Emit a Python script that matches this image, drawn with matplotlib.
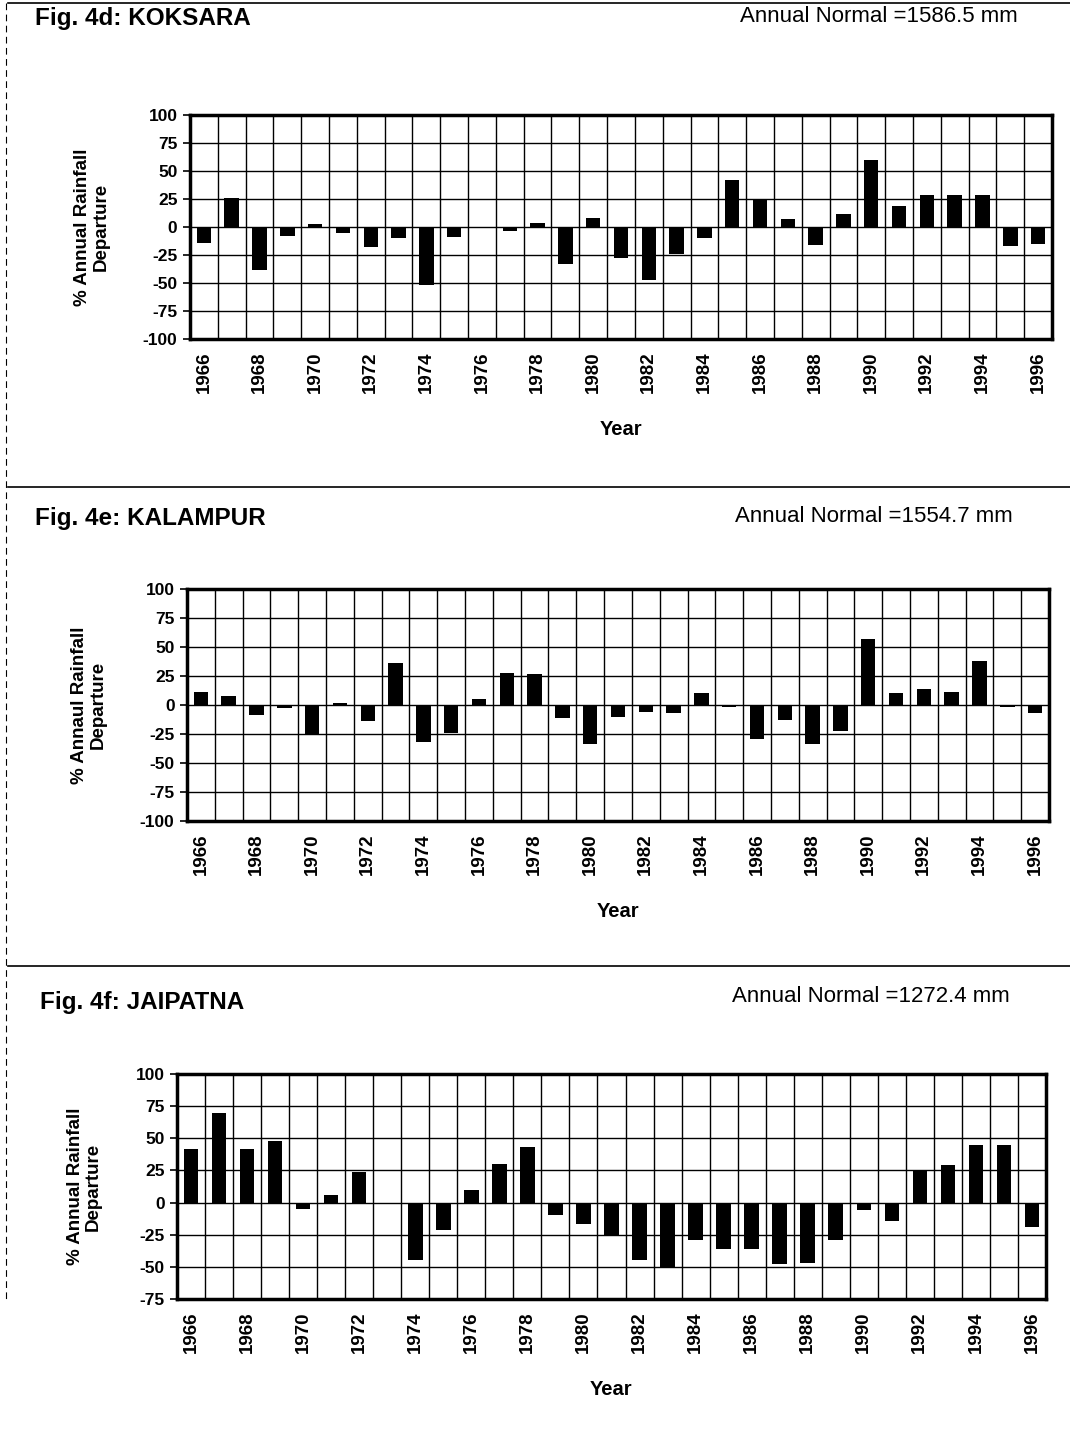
import numpy as np
import matplotlib
matplotlib.use('Agg')
import matplotlib.pyplot as plt
from matplotlib.lines import Line2D

plt.rcParams['font.family'] = ['Liberation Sans', 'DejaVu Sans']
plt.rcParams['axes.unicode_minus'] = False

years = list(range(1966, 1997))

# % annual rainfall departure
koksara = [-14, 26, -38, -8, 3, -5, -18, -10, -52, -9, -1, -4, 4, -33, 8,
           -28, -47, -24, -10, 42, 24, 7, -16, 12, 60, 19, 29, 29, 29, -17, -15]
kalampur = [11, 8, -9, -3, -26, 2, -14, 36, -32, -24, 5, 28, 27, -11, -34,
            -10, -6, -7, 10, -2, -29, -13, -34, -22, 57, 10, 14, 11, 38, -2, -7]
jaipatna = [42, 70, 42, 48, -5, 6, 24, 0, -45, -21, 10, 30, 43, -10, -17,
            -26, -45, -51, -29, -36, -36, -48, -47, -29, -6, -14, 25, 29, 45, 45, -19]

titles = ['Fig. 4d: KOKSARA', 'Fig. 4e: KALAMPUR', 'Fig. 4f: JAIPATNA']
normals = ['Annual Normal =1586.5 mm', 'Annual Normal =1554.7 mm',
           'Annual Normal =1272.4 mm']
ylabels = ['% Annual Rainfall\nDeparture', '% Annaul Rainfall\nDeparture',
           '% Annual Rainfall\nDeparture']
series = [koksara, kalampur, jaipatna]
ylims = [(-100, 100), (-100, 100), (-75, 100)]

W, H = 1070, 1441
fig = plt.figure(figsize=(W / 100, H / 100), dpi=100)

# axes boxes in pixels: left, right, top, bottom
boxes = [(190, 1052, 115, 339), (187, 1049, 589, 821), (177, 1046, 1074, 1299)]
title_pos = [(35, 18, 1018, 17), (35, 518, 1013, 516), (40, 1002, 1010, 997)]

x = np.arange(len(years))
for k in range(3):
    l, r, t, b = boxes[k]
    ax = fig.add_axes([l / W, 1 - b / H, (r - l) / W, (b - t) / H])
    ax.bar(x, series[k], width=0.52, color='black', zorder=3)
    ax.set_xlim(-0.5, len(years) - 0.5)
    ax.set_ylim(*ylims[k])
    ax.set_yticks(np.arange(ylims[k][0], 101, 25))
    ax.set_xticks(x[::2])
    ax.set_xticklabels([str(y) for y in years[::2]], rotation=90,
                       fontsize=13.5, fontweight='bold')
    ax.set_xticks(np.arange(0.5, len(years) - 1, 1), minor=True)
    ax.tick_params(axis='x', which='both', length=0, pad=9)
    ax.tick_params(axis='y', length=5, width=1.2, labelsize=12.5, pad=4)
    for lab in ax.get_yticklabels():
        lab.set_fontweight('bold')
    ax.grid(True, axis='y', color='black', linewidth=1.0, zorder=1)
    ax.grid(True, axis='x', which='minor', color='black', linewidth=1.0, zorder=1)
    for s in ax.spines.values():
        s.set_linewidth(2.5)
    ax.set_ylabel(ylabels[k], fontsize=13.5, fontweight='bold', labelpad=24,
                  linespacing=1.1)
    ax.set_xlabel('Year', fontsize=14.5, fontweight='bold', labelpad=19)

    tx, ty, nx, ny = title_pos[k]
    fig.text(tx / W, 1 - ty / H, titles[k], fontsize=17.5, fontweight='bold',
             ha='left', va='center')
    fig.text(nx / W, 1 - ny / H, normals[k], fontsize=16,
             ha='right', va='center')

# separator lines of the scanned page
for yy in [3, 487, 966]:
    fig.add_artist(Line2D([8 / W, 1], [1 - yy / H, 1 - yy / H],
                          color='black', linewidth=1.2))
fig.add_artist(Line2D([6 / W, 6 / W], [1 - 3 / H, 1 - 1300 / H],
                      color='black', linewidth=0.8, linestyle=(0, (6, 4))))

fig.savefig('out.png', dpi=100, facecolor='white')
